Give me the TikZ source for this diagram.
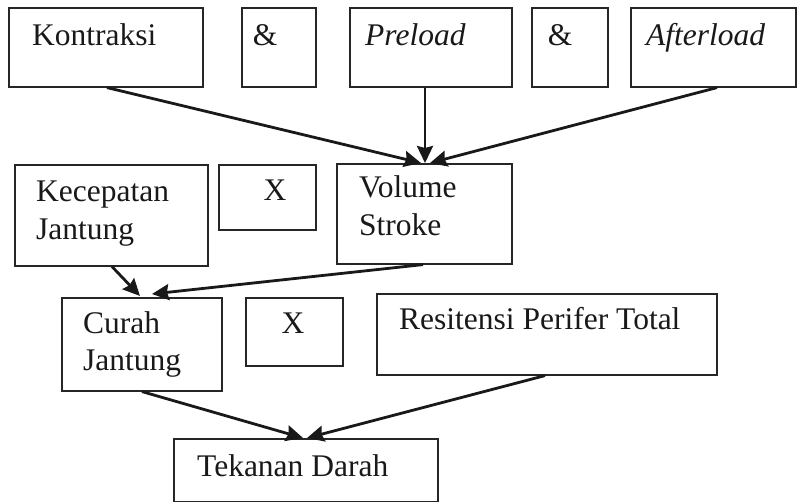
\documentclass[tikz,border=0pt]{standalone}
\usepackage{fontspec}
\setmainfont{Liberation Serif}
\usetikzlibrary{arrows.meta,calc}
\begin{document}
\begin{tikzpicture}[x=1pt,y=-1pt,
  box/.style={draw=black!85,line width=1.6pt,anchor=north west,inner sep=0pt},
  txt/.style={inner sep=0pt,font=\fontsize{31.5}{38}\selectfont,text=black!90},
  conn/.style={draw=black!90,line width=2.8pt,-{Stealth[length=17pt,width=16pt,inset=2pt]}}]
\useasboundingbox (0,0) rectangle (797,502);
% boxes
\node[box,minimum width=194pt,minimum height=79pt] (k) at (8,7) {};
\node[box,minimum width=74pt,minimum height=79pt] (a1) at (241,7) {};
\node[box,minimum width=162pt,minimum height=79pt] (pre) at (349,7) {};
\node[box,minimum width=76pt,minimum height=79pt] (a2) at (531,7) {};
\node[box,minimum width=165pt,minimum height=79pt] (aft) at (630,7) {};
\node[box,minimum width=193pt,minimum height=101pt] (kec) at (14,164) {};
\node[box,minimum width=97pt,minimum height=65pt] (x1) at (218,164) {};
\node[box,minimum width=175pt,minimum height=100pt] (vol) at (336,163) {};
\node[box,minimum width=160pt,minimum height=93pt] (cur) at (61,297) {};
\node[box,minimum width=97pt,minimum height=68pt] (x2) at (245,297) {};
\node[box,minimum width=340pt,minimum height=81pt] (res) at (376,293) {};
\node[box,minimum width=264pt,minimum height=63pt] (tek) at (173,438) {};
% texts
\node[txt,anchor=base west] (tk) at (32,46) {Kontraksi};
\node[txt,anchor=base] (ta1) at (265,46) {\&};
\node[txt,anchor=base west] (tpre) at (365,46) {\itshape Preload};
\node[txt,anchor=base] (ta2) at (560,46) {\&};
\node[txt,anchor=base west] (taft) at (646,46) {\itshape Afterload};
\node[txt,anchor=base west] (tkec1) at (36,202) {Kecepatan};
\node[txt,anchor=base west] (tkec2) at (36,240) {Jantung};
\node[txt,anchor=base] (tx1) at (275,201) {X};
\node[txt,anchor=base west] (tvol1) at (359,198) {Volume};
\node[txt,anchor=base west] (tvol2) at (359,236) {Stroke};
\node[txt,anchor=base west] (tcur1) at (83,333) {Curah};
\node[txt,anchor=base west] (tcur2) at (83,370) {Jantung};
\node[txt,anchor=base] (tx2) at (293,333) {X};
\node[txt,anchor=base west] (tres) at (399,329) {Resitensi Perifer Total};
\node[txt,anchor=base west] (ttek) at (197,476) {Tekanan Darah};
% connector end points
\coordinate (kS) at ($(k.south west)+(99,0)$);
\coordinate (preS) at ($(pre.south west)+(76,0)$);
\coordinate (aftS) at ($(aft.south west)+(87,0)$);
\coordinate (volN1) at ($(vol.north west)+(85,0)$);
\coordinate (volN2) at ($(vol.north west)+(89,0)$);
\coordinate (volN3) at ($(vol.north west)+(94,0)$);
\coordinate (kecS) at ($(kec.south west)+(98,0)$);
\coordinate (volS) at ($(vol.south west)+(87,0)$);
\coordinate (curN1) at ($(cur.north west)+(79,-1)$);
\coordinate (curN2) at ($(cur.north west)+(91,-3)$);
\coordinate (curS) at ($(cur.south west)+(81,0)$);
\coordinate (resS) at ($(res.south west)+(169,0)$);
\coordinate (tekN1) at ($(tek.north west)+(130,0)$);
\coordinate (tekN2) at ($(tek.north west)+(134,0)$);
% connectors
\draw[conn] (kS) -- (volN1);
\draw[conn] (preS) -- (volN2);
\draw[conn] (aftS) -- (volN3);
\draw[conn] (kecS) -- (curN1);
\draw[conn] (volS) -- (curN2);
\draw[conn] (curS) -- (tekN1);
\draw[conn] (resS) -- (tekN2);
\end{tikzpicture}
\end{document}
